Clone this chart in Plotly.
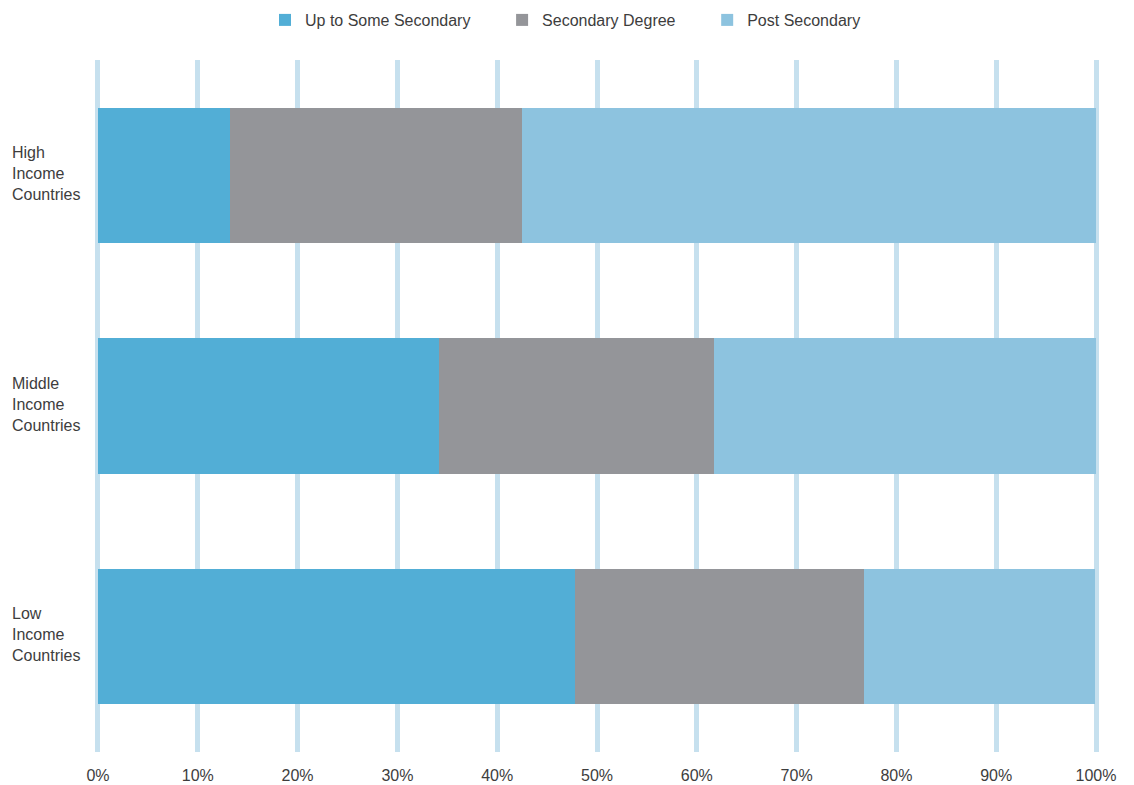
import plotly.graph_objects as go

# Income groups, top to bottom
groups = ["High<br>Income<br>Countries", "Middle<br>Income<br>Countries", "Low<br>Income<br>Countries"]

# Share of population by education level (%)
up_to_some_secondary = [13.2, 34.2, 47.8]
secondary_degree = [29.3, 27.5, 29.0]
post_secondary = [57.5, 38.3, 23.1]

series_names = ["Up to Some Secondary", "Secondary Degree", "Post Secondary"]
series_colors = ["#52aed6", "#949599", "#8dc3df"]

x_ticks = list(range(0, 101, 10))
x_tick_text = [f"{v}%" for v in x_ticks]

W, H = 1134, 785
M_L, M_R, M_T, M_B = 93, 33, 60, 33
FONT = "Liberation Sans, Arial, sans-serif"
TEXT = "#3d3d3d"
PAD = "\u00a0" * 6  # extra room between legend entries

fig = go.Figure()
for name, vals, col in zip(series_names,
                           [up_to_some_secondary, secondary_degree, post_secondary],
                           series_colors):
    fig.add_trace(go.Bar(
        y=list(range(len(groups))), x=vals, name=name + PAD, orientation="h",
        marker=dict(color=col, line=dict(width=0)),
    ))

# Left-aligned multi-line group labels
plot_w = W - M_L - M_R
for i, g in enumerate(groups):
    fig.add_annotation(
        x=(10 - M_L) / plot_w, xref="paper", xanchor="left",
        y=i, yref="y", yanchor="middle", yshift=2,
        text=g, showarrow=False, align="left",
        font=dict(family=FONT, size=16, color=TEXT),
    )

fig.update_layout(
    width=W, height=H,
    margin=dict(l=M_L, r=M_R, t=M_T, b=M_B),
    barmode="stack", bargap=0.414,
    plot_bgcolor="white", paper_bgcolor="white",
    font=dict(family=FONT, size=16, color=TEXT),
    xaxis=dict(
        range=[-0.5, 100.5], tickvals=x_ticks, ticktext=x_tick_text,
        showgrid=True, gridcolor="#c6e0ee", gridwidth=5,
        zeroline=False, showline=False, ticks="", ticklabelstandoff=12,
        automargin=False,
        tickfont=dict(family=FONT, size=16, color=TEXT),
    ),
    yaxis=dict(
        range=[2.5, -0.5], showticklabels=False, showgrid=False,
        zeroline=False, showline=False, ticks="", automargin=False,
    ),
    legend=dict(
        orientation="h", traceorder="normal",
        xref="container", x=265 / W, xanchor="left",
        yref="container", y=1 - 20 / H, yanchor="middle",
        font=dict(family=FONT, size=16, color=TEXT),
    ),
    showlegend=True,
)

fig.write_html("out.html")
